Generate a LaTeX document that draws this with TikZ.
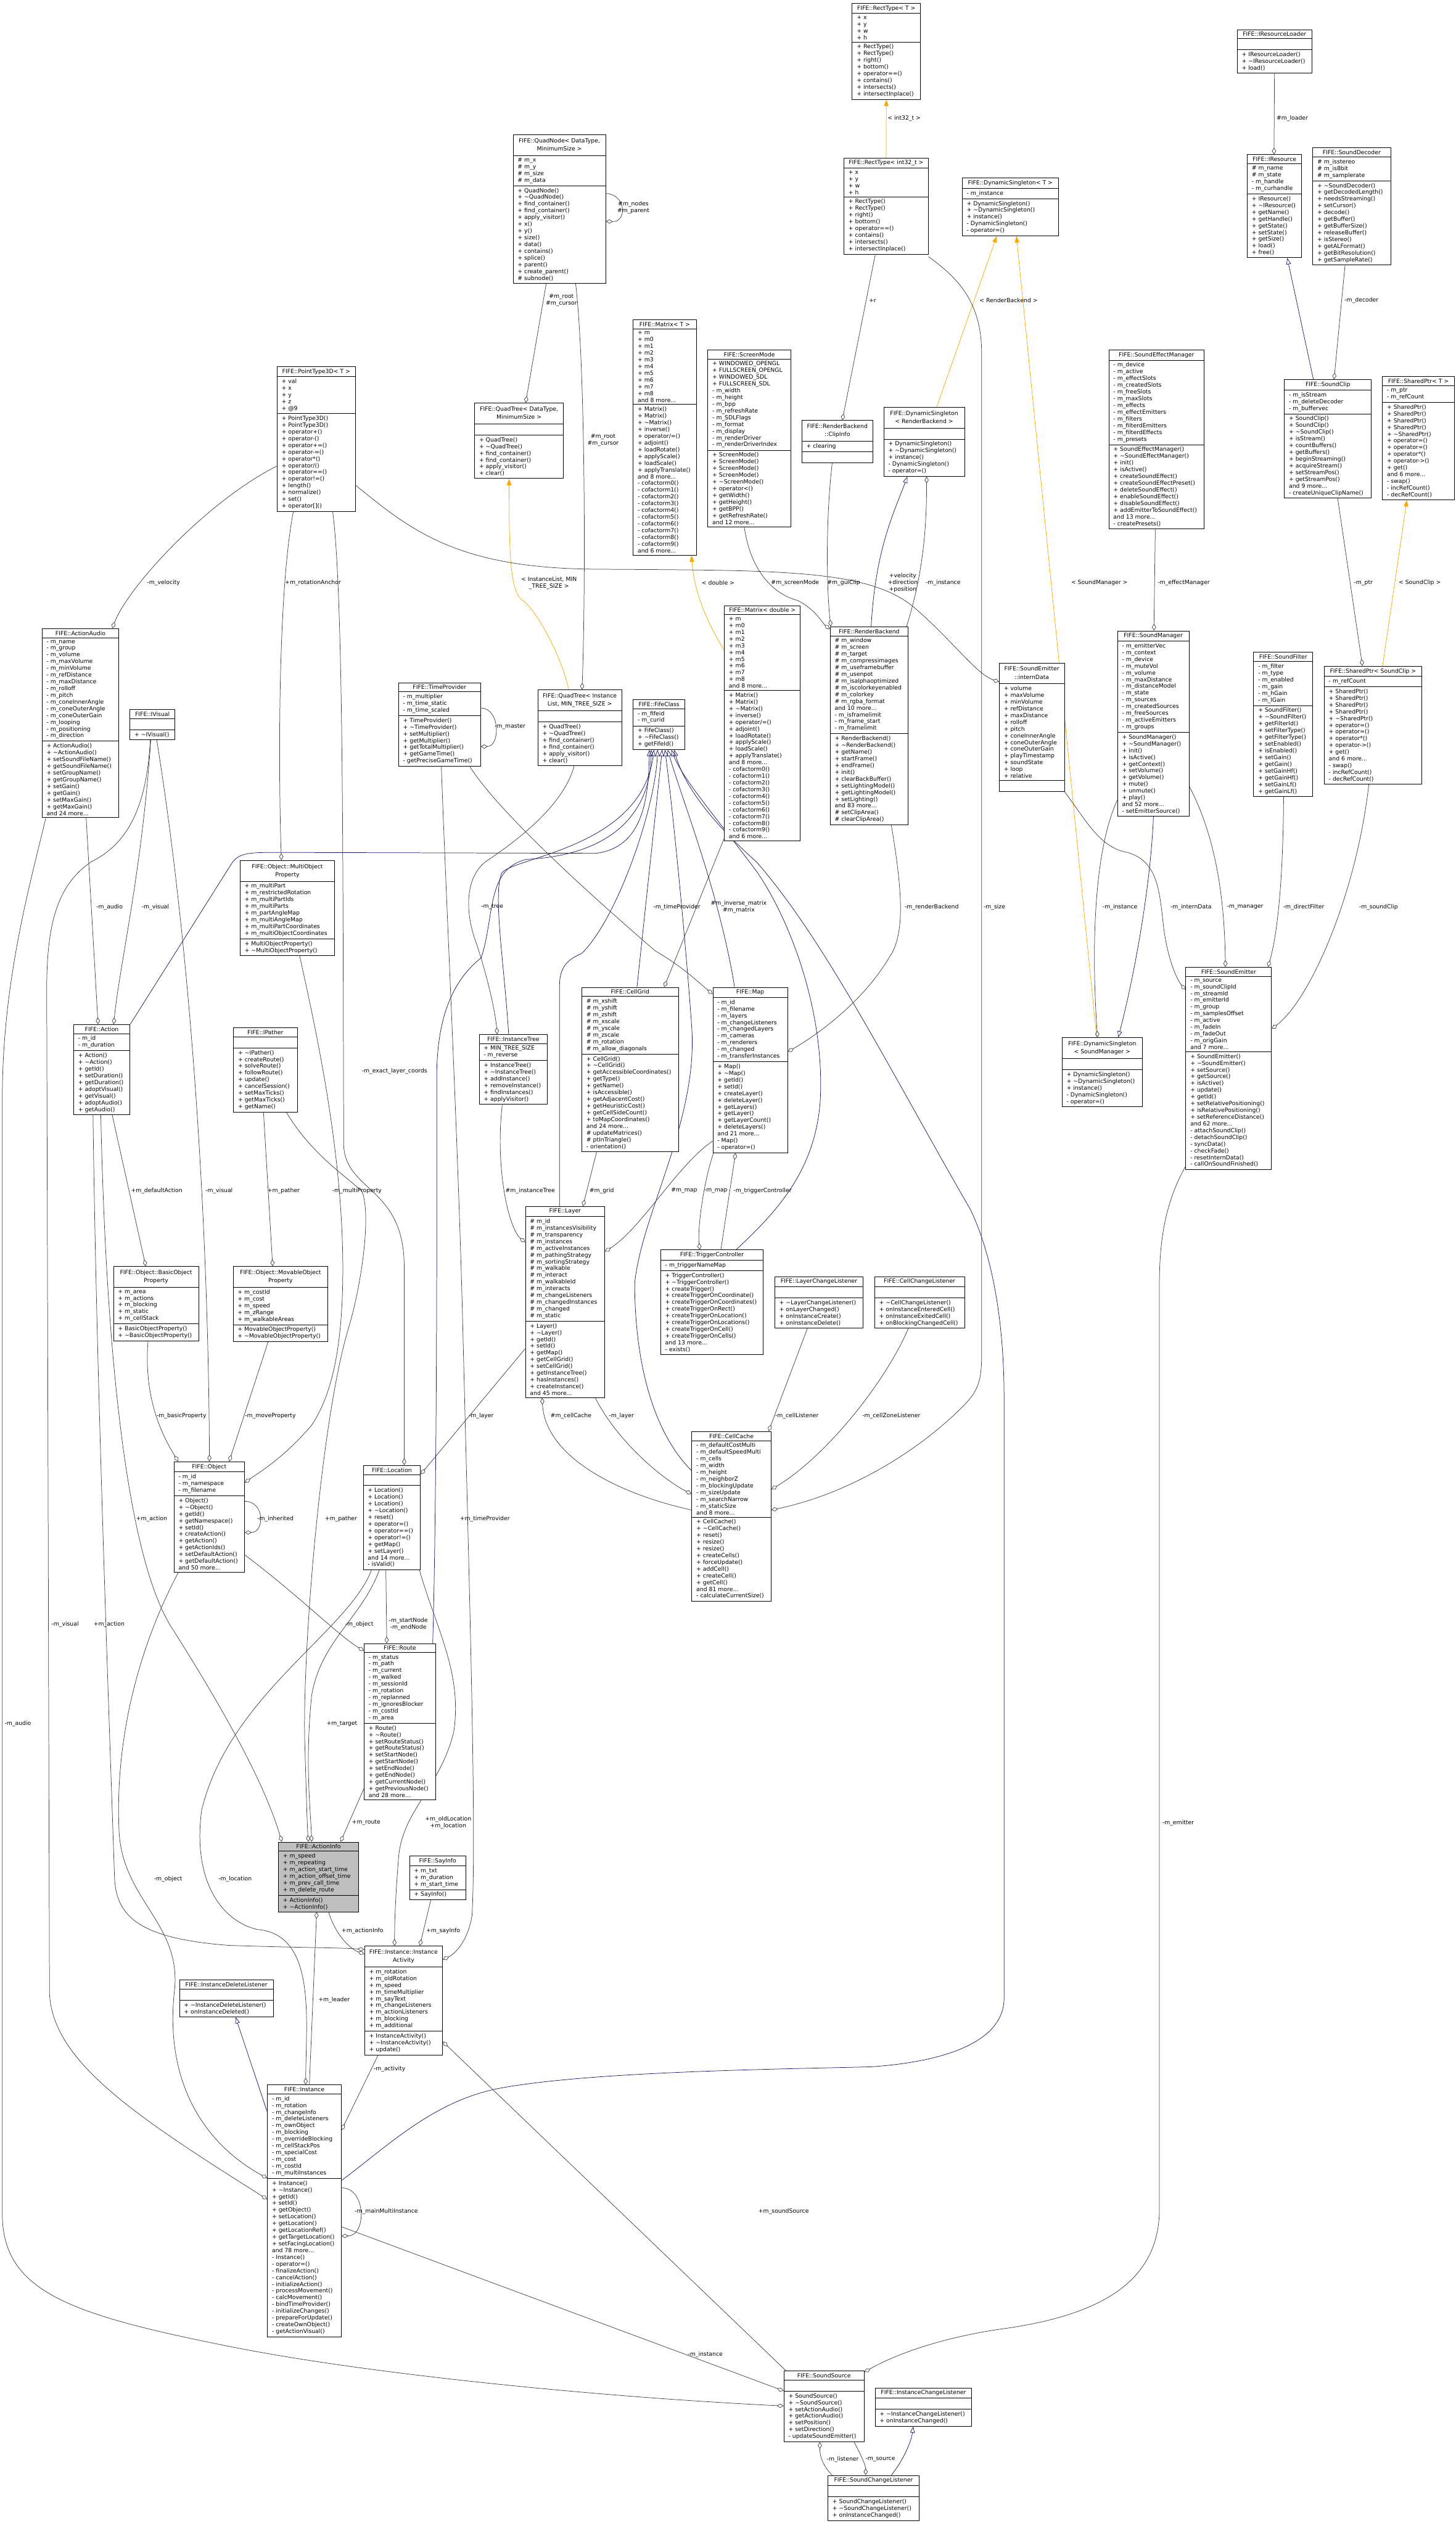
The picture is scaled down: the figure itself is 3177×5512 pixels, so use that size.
\documentclass[tikz,border=0pt]{standalone}
\usepackage{fontspec}
\setmainfont{DejaVu Sans}
\usetikzlibrary{shapes.multipart,arrows.meta,calc}
\definecolor{aggcol}{HTML}{404040}
\definecolor{inhcol}{HTML}{191970}
\definecolor{tplcol}{HTML}{FFA500}
\pgfdeclarelayer{edges}
\pgfsetlayers{edges,main}
\newcommand{\classfont}{\fontsize{12.5}{14.7}\selectfont}
\newcommand{\tld}{\textasciitilde}
\newcommand{\ttl}[2]{\begin{tabular}{@{}c@{}}#1\\#2\end{tabular}}
\renewcommand{\arraystretch}{1.2}
\newcommand{\rectops}{+ RectType()\\+ RectType()\\+ right()\\+ bottom()\\+ operator==()\\+ contains()\\+ intersects()\\+ intersectInplace()}
\newcommand{\matattrs}{+ m\\+ m0\\+ m1\\+ m2\\+ m3\\+ m4\\+ m5\\+ m6\\+ m7\\+ m8\\and 8 more...}
\newcommand{\matops}{+ Matrix()\\+ Matrix()\\+ \tld Matrix()\\+ inverse()\\+ operator/=()\\+ adjoint()\\+ loadRotate()\\+ applyScale()\\+ loadScale()\\+ applyTranslate()\\and 8 more...\\- cofactorm0()\\- cofactorm1()\\- cofactorm2()\\- cofactorm3()\\- cofactorm4()\\- cofactorm5()\\- cofactorm6()\\- cofactorm7()\\- cofactorm8()\\- cofactorm9()\\and 6 more...}
\newcommand{\quadops}{+ QuadTree()\\+ \tld QuadTree()\\+ find\_container()\\+ find\_container()\\+ apply\_visitor()\\+ clear()}
\newcommand{\dsops}{+ DynamicSingleton()\\+ \tld DynamicSingleton()\\+ instance()\\- DynamicSingleton()\\- operator=()}
\newcommand{\shops}{+ SharedPtr()\\+ SharedPtr()\\+ SharedPtr()\\+ SharedPtr()\\+ \tld SharedPtr()\\+ operator=()\\+ operator=()\\+ operator*()\\+ operator->()\\+ get()\\and 6 more...\\- swap()\\- incRefCount()\\- decRefCount()}
\tikzset{
  cls/.style={draw, line width=1.2pt, fill=white, rectangle split, rectangle split parts=3,
    rectangle split ignore empty parts=false, rectangle split part align={center,left,left},
    rectangle split empty part height=11pt, rectangle split empty part depth=3pt,
    align=left, minimum width=#1pt, inner xsep=10pt, inner ysep=4.5pt, anchor=north west,
    font=\classfont},
  lbl/.style={font=\classfont, align=center, inner sep=0pt},
  agg/.style={aggcol, line width=1pt, -{Diamond[open,length=15pt,width=9pt]}},
  inh/.style={inhcol, line width=1pt, -{Triangle[open,length=14pt,width=10pt]}},
  tpl/.style={tplcol, line width=1pt, -{Triangle[length=14pt,width=10pt]}},
}
\begin{document}
\begin{tikzpicture}[x=1pt,y=-1pt]
\path[use as bounding box] (0,0) rectangle (3177,5512);
% classes, top part
\node[cls=149] (rectT) at (1859,7) {FIFE::RectType< T >\nodepart{two}+ x\\+ y\\+ w\\+ h\nodepart{three}\rectops};
\node[cls=184] (rectI) at (1841,344) {FIFE::RectType< int32\_t >\nodepart{two}+ x\\+ y\\+ w\\+ h\nodepart{three}\rectops};
\node[cls=202] (quadN) at (1119,293) {\ttl{FIFE::QuadNode< DataType,}{MinimumSize >}\nodepart{two}\# m\_x\\\# m\_y\\\# m\_size\\\# m\_data\nodepart{three}+ QuadNode()\\+ \tld QuadNode()\\+ find\_container()\\+ find\_container()\\+ apply\_visitor()\\+ x()\\+ y()\\+ size()\\+ data()\\+ contains()\\+ splice()\\+ parent()\\+ create\_parent()\\\# subnode()};
\node[cls=194] (quadT) at (1035,879) {\ttl{FIFE::QuadTree< DataType,}{MinimumSize >}\nodepart{two}\nodepart{three}\quadops};
\node[cls=138] (matT) at (1381,697) {FIFE::Matrix< T >\nodepart{two}\matattrs\nodepart{three}\matops};
\node[cls=166] (matD) at (1580,1321) {FIFE::Matrix< double >\nodepart{two}\matattrs\nodepart{three}\matops};
\node[cls=181] (screen) at (1544,763) {FIFE::ScreenMode\nodepart{two}+ WINDOWED\_OPENGL\\+ FULLSCREEN\_OPENGL\\+ WINDOWED\_SDL\\+ FULLSCREEN\_SDL\\- m\_width\\- m\_height\\- m\_bpp\\- m\_refreshRate\\- m\_SDLFlags\\- m\_format\\- m\_display\\- m\_renderDriver\\- m\_renderDriverIndex\nodepart{three}+ ScreenMode()\\+ ScreenMode()\\+ ScreenMode()\\+ ScreenMode()\\+ \tld ScreenMode()\\+ operator<()\\+ getWidth()\\+ getHeight()\\+ getBPP()\\+ getRefreshRate()\\and 12 more...};
\node[cls=155] (clip) at (1749,917) {\ttl{FIFE::RenderBackend}{::ClipInfo}\nodepart{two}+ clearing\nodepart{three}};
\node[cls=210] (dsT) at (2099,388) {FIFE::DynamicSingleton< T >\nodepart{two}- m\_instance\nodepart{three}\dsops};
\node[cls=176] (dsRB) at (1928,888) {\ttl{FIFE::DynamicSingleton}{< RenderBackend >}\nodepart{two}\nodepart{three}\dsops};
\node[cls=170] (rback) at (1811,1367) {FIFE::RenderBackend\nodepart{two}\# m\_window\\\# m\_screen\\\# m\_target\\\# m\_compressimages\\\# m\_useframebuffer\\\# m\_usenpot\\\# m\_isalphaoptimized\\\# m\_iscolorkeyenabled\\\# m\_colorkey\\\# m\_rgba\_format\\and 10 more...\\- m\_isframelimit\\- m\_frame\_start\\- m\_framelimit\nodepart{three}+ RenderBackend()\\+ \tld RenderBackend()\\+ getName()\\+ startFrame()\\+ endFrame()\\+ init()\\+ clearBackBuffer()\\+ setLightingModel()\\+ getLightingModel()\\+ setLighting()\\and 83 more...\\\# setClipArea()\\\# clearClipArea()};
\node[cls=163] (resLoad) at (2699,64) {FIFE::IResourceLoader\nodepart{two}\nodepart{three}+ IResourceLoader()\\+ \tld IResourceLoader()\\+ load()};
\node[cls=119] (res) at (2721,337) {FIFE::IResource\nodepart{two}\# m\_name\\\# m\_state\\- m\_handle\\- m\_curhandle\nodepart{three}+ IResource()\\+ \tld IResource()\\+ getName()\\+ getHandle()\\+ getState()\\+ setState()\\+ getSize()\\+ load()\\+ free()};
\node[cls=170] (sdec) at (2864,322) {FIFE::SoundDecoder\nodepart{two}\# m\_isstereo\\\# m\_is8bit\\\# m\_samplerate\nodepart{three}+ \tld SoundDecoder()\\+ getDecodedLength()\\+ needsStreaming()\\+ setCursor()\\+ decode()\\+ getBuffer()\\+ getBufferSize()\\+ releaseBuffer()\\+ isStereo()\\+ getALFormat()\\+ getBitResolution()\\+ getSampleRate()};
\node[cls=190] (sclip) at (2802,828) {FIFE::SoundClip\nodepart{two}- m\_isStream\\- m\_deleteDecoder\\- m\_buffervec\nodepart{three}+ SoundClip()\\+ SoundClip()\\+ \tld SoundClip()\\+ isStream()\\+ countBuffers()\\+ getBuffers()\\+ beginStreaming()\\+ acquireStream()\\+ setStreamPos()\\+ getStreamPos()\\and 9 more...\\- createUniqueClipName()};
\node[cls=157] (shT) at (3016,821) {FIFE::SharedPtr< T >\nodepart{two}- m\_ptr\\- m\_refCount\nodepart{three}\shops};
\node[cls=208] (sefx) at (2419,763) {FIFE::SoundEffectManager\nodepart{two}- m\_device\\- m\_active\\- m\_effectSlots\\- m\_createdSlots\\- m\_freeSlots\\- m\_maxSlots\\- m\_effects\\- m\_effectEmitters\\- m\_filters\\- m\_filterdEmitters\\- m\_filterdEffects\\- m\_presets\nodepart{three}+ SoundEffectManager()\\+ \tld SoundEffectManager()\\+ init()\\+ isActive()\\+ createSoundEffect()\\+ createSoundEffectPreset()\\+ deleteSoundEffect()\\+ enableSoundEffect()\\+ disableSoundEffect()\\+ addEmitterToSoundEffect()\\and 13 more...\\- createPresets()};
\node[cls=171] (ptd) at (604,799) {FIFE::PointType3D< T >\nodepart{two}+ val\\+ x\\+ y\\+ z\\+ @9\nodepart{three}+ PointType3D()\\+ PointType3D()\\+ operator+()\\+ operator-()\\+ operator+=()\\+ operator-=()\\+ operator*()\\+ operator/()\\+ operator==()\\+ operator!=()\\+ length()\\+ normalize()\\+ set()\\+ operator[]()};
% middle part
\node[cls=168] (aaudio) at (91,1371) {FIFE::ActionAudio\nodepart{two}- m\_name\\- m\_group\\- m\_volume\\- m\_maxVolume\\- m\_minVolume\\- m\_refDistance\\- m\_maxDistance\\- m\_rolloff\\- m\_pitch\\- m\_coneInnerAngle\\- m\_coneOuterAngle\\- m\_coneOuterGain\\- m\_looping\\- m\_positioning\\- m\_direction\nodepart{three}+ ActionAudio()\\+ \tld ActionAudio()\\+ setSoundFileName()\\+ getSoundFileName()\\+ setGroupName()\\+ getGroupName()\\+ setGain()\\+ getGain()\\+ setMaxGain()\\+ getMaxGain()\\and 24 more...};
\node[cls=98] (ivis) at (283,1548) {FIFE::IVisual\nodepart{two}\nodepart{three}+ \tld IVisual()};
\node[cls=179] (tprov) at (869,1489) {FIFE::TimeProvider\nodepart{two}- m\_multiplier\\- m\_time\_static\\- m\_time\_scaled\nodepart{three}+ TimeProvider()\\+ \tld TimeProvider()\\+ setMultiplier()\\+ getMultiplier()\\+ getTotalMultiplier()\\+ getGameTime()\\- getPreciseGameTime()};
\node[cls=183] (quadTI) at (1173,1505) {\ttl{FIFE::QuadTree< Instance}{List, MIN\_TREE\_SIZE >}\nodepart{two}\nodepart{three}\quadops};
\node[cls=113] (fife) at (1381,1526) {FIFE::FifeClass\nodepart{two}- m\_fifeid\\- m\_curid\nodepart{three}+ FifeClass()\\+ \tld FifeClass()\\+ getFifeId()};
\node[cls=207] (multi) at (523,1877) {\ttl{FIFE::Object::MultiObject}{Property}\nodepart{two}+ m\_multiPart\\+ m\_restrictedRotation\\+ m\_multiPartIds\\+ m\_multiParts\\+ m\_partAngleMap\\+ m\_multiAngleMap\\+ m\_multiPartCoordinates\\+ m\_multiObjectCoordinates\nodepart{three}+ MultiObjectProperty()\\+ \tld MultiObjectProperty()};
\node[cls=123] (action) at (160,2235) {FIFE::Action\nodepart{two}- m\_id\\- m\_duration\nodepart{three}+ Action()\\+ \tld Action()\\+ getId()\\+ setDuration()\\+ getDuration()\\+ adoptVisual()\\+ getVisual()\\+ adoptAudio()\\+ getAudio()};
\node[cls=139] (ipath) at (509,2242) {FIFE::IPather\nodepart{two}\nodepart{three}+ \tld IPather()\\+ createRoute()\\+ solveRoute()\\+ followRoute()\\+ update()\\+ cancelSession()\\+ setMaxTicks()\\+ getMaxTicks()\\+ getName()};
\node[cls=149] (itree) at (1045,2257) {FIFE::InstanceTree\nodepart{two}+ MIN\_TREE\_SIZE\\- m\_reverse\nodepart{three}+ InstanceTree()\\+ \tld InstanceTree()\\+ addInstance()\\+ removeInstance()\\+ findInstances()\\+ applyVisitor()};
\node[cls=211] (cgrid) at (1269,2154) {FIFE::CellGrid\nodepart{two}\# m\_xshift\\\# m\_yshift\\\# m\_zshift\\\# m\_xscale\\\# m\_yscale\\\# m\_zscale\\\# m\_rotation\\\# m\_allow\_diagonals\nodepart{three}+ CellGrid()\\+ \tld CellGrid()\\+ getAccessibleCoordinates()\\+ getType()\\+ getName()\\+ isAccessible()\\+ getAdjacentCost()\\+ getHeuristicCost()\\+ getCellSideCount()\\+ toMapCoordinates()\\and 24 more...\\\# updateMatrices()\\\# ptInTriangle()\\- orientation()};
\node[cls=163] (map) at (1555,2154) {FIFE::Map\nodepart{two}- m\_id\\- m\_filename\\- m\_layers\\- m\_changeListeners\\- m\_changedLayers\\- m\_cameras\\- m\_renderers\\- m\_changed\\- m\_transferInstances\nodepart{three}+ Map()\\+ \tld Map()\\+ getId()\\+ setId()\\+ createLayer()\\+ deleteLayer()\\+ getLayers()\\+ getLayer()\\+ getLayerCount()\\+ deleteLayers()\\and 21 more...\\- Map()\\- operator=()};
\node[cls=173] (layer) at (1146,2632) {FIFE::Layer\nodepart{two}\# m\_id\\\# m\_instancesVisibility\\\# m\_transparency\\\# m\_instances\\\# m\_activeInstances\\\# m\_pathingStrategy\\\# m\_sortingStrategy\\\# m\_walkable\\\# m\_interact\\\# m\_walkableId\\\# m\_interacts\\\# m\_changeListeners\\\# m\_changedInstances\\\# m\_changed\\\# m\_static\nodepart{three}+ Layer()\\+ \tld Layer()\\+ getId()\\+ setId()\\+ getMap()\\+ getCellGrid()\\+ setCellGrid()\\+ getInstanceTree()\\+ hasInstances()\\+ createInstance()\\and 45 more...};
\node[cls=224] (trig) at (1441,2727) {FIFE::TriggerController\nodepart{two}- m\_triggerNameMap\nodepart{three}+ TriggerController()\\+ \tld TriggerController()\\+ createTrigger()\\+ createTriggerOnCoordinate()\\+ createTriggerOnCoordinates()\\+ createTriggerOnRect()\\+ createTriggerOnLocation()\\+ createTriggerOnLocations()\\+ createTriggerOnCell()\\+ createTriggerOnCells()\\and 13 more...\\- exists()};
\node[cls=142] (idata) at (2180,1446) {\ttl{FIFE::SoundEmitter}{::internData}\nodepart{two}+ volume\\+ maxVolume\\+ minVolume\\+ refDistance\\+ maxDistance\\+ rolloff\\+ pitch\\+ coneInnerAngle\\+ coneOuterAngle\\+ coneOuterGain\\+ playTimestamp\\+ soundState\\+ loop\\+ relative\nodepart{three}};
\node[cls=156] (smgr) at (2438,1376) {FIFE::SoundManager\nodepart{two}- m\_emitterVec\\- m\_context\\- m\_device\\- m\_muteVol\\- m\_volume\\- m\_maxDistance\\- m\_distanceModel\\- m\_state\\- m\_sources\\- m\_createdSources\\- m\_freeSources\\- m\_activeEmitters\\- m\_groups\nodepart{three}+ SoundManager()\\+ \tld SoundManager()\\+ init()\\+ isActive()\\+ getContext()\\+ setVolume()\\+ getVolume()\\+ mute()\\+ unmute()\\+ play()\\and 52 more...\\- setEmitterSource()};
\node[cls=129] (sfilt) at (2735,1423) {FIFE::SoundFilter\nodepart{two}- m\_filter\\- m\_type\\- m\_enabled\\- m\_gain\\- m\_hGain\\- m\_lGain\nodepart{three}+ SoundFilter()\\+ \tld SoundFilter()\\+ getFilterId()\\+ setFilterType()\\+ getFilterType()\\+ setEnabled()\\+ isEnabled()\\+ setGain()\\+ getGain()\\+ setGainHf()\\+ getGainHf()\\+ setGainLf()\\+ getGainLf()};
\node[cls=213] (shSC) at (2889,1453) {FIFE::SharedPtr< SoundClip >\nodepart{two}- m\_refCount\nodepart{three}\shops};
\node[cls=175] (dsSM) at (2317,2264) {\ttl{FIFE::DynamicSingleton}{< SoundManager >}\nodepart{two}\nodepart{three}\dsops};
\node[cls=187] (semit) at (2587,2110) {FIFE::SoundEmitter\nodepart{two}- m\_source\\- m\_soundClipId\\- m\_streamId\\- m\_emitterId\\- m\_group\\- m\_samplesOffset\\- m\_active\\- m\_fadeIn\\- m\_fadeOut\\- m\_origGain\\and 7 more...\nodepart{three}+ SoundEmitter()\\+ \tld SoundEmitter()\\+ setSource()\\+ getSource()\\+ isActive()\\+ update()\\+ getId()\\+ setRelativePositioning()\\+ isRelativePositioning()\\+ setReferenceDistance()\\and 62 more...\\- attachSoundClip()\\- detachSoundClip()\\- syncData()\\- checkFade()\\- resetInternData()\\- callOnSoundFinished()};
% lower part
\node[cls=186] (basic) at (247,2763) {\ttl{FIFE::Object::BasicObject}{Property}\nodepart{two}+ m\_area\\+ m\_actions\\+ m\_blocking\\+ m\_static\\+ m\_cellStack\nodepart{three}+ BasicObjectProperty()\\+ \tld BasicObjectProperty()};
\node[cls=207] (movable) at (508,2763) {\ttl{FIFE::Object::MovableObject}{Property}\nodepart{two}+ m\_costId\\+ m\_cost\\+ m\_speed\\+ m\_zRange\\+ m\_walkableAreas\nodepart{three}+ MovableObjectProperty()\\+ \tld MovableObjectProperty()};
\node[cls=154] (object) at (379,3189) {FIFE::Object\nodepart{two}- m\_id\\- m\_namespace\\- m\_filename\nodepart{three}+ Object()\\+ \tld Object()\\+ getId()\\+ getNamespace()\\+ setId()\\+ createAction()\\+ getAction()\\+ getActionIds()\\+ setDefaultAction()\\+ getDefaultAction()\\and 50 more...};
\node[cls=125] (loc) at (792,3197) {FIFE::Location\nodepart{two}\nodepart{three}+ Location()\\+ Location()\\+ Location()\\+ \tld Location()\\+ reset()\\+ operator=()\\+ operator==()\\+ operator!=()\\+ getMap()\\+ setLayer()\\and 14 more...\\- isValid()};
\node[cls=156] (route) at (794,3586) {FIFE::Route\nodepart{two}- m\_status\\- m\_path\\- m\_current\\- m\_walked\\- m\_sessionId\\- m\_rotation\\- m\_replanned\\- m\_ignoresBlocker\\- m\_costId\\- m\_area\nodepart{three}+ Route()\\+ \tld Route()\\+ setRouteStatus()\\+ getRouteStatus()\\+ setStartNode()\\+ getStartNode()\\+ setEndNode()\\+ getEndNode()\\+ getCurrentNode()\\+ getPreviousNode()\\and 28 more...};
\node[cls=175, fill=black!25] (ainfo) at (607,4019) {FIFE::ActionInfo\nodepart{two}+ m\_speed\\+ m\_repeating\\+ m\_action\_start\_time\\+ m\_action\_offset\_time\\+ m\_prev\_call\_time\\+ m\_delete\_route\nodepart{three}+ ActionInfo()\\+ \tld ActionInfo()};
\node[cls=123] (say) at (893,4049) {FIFE::SayInfo\nodepart{two}+ m\_txt\\+ m\_duration\\+ m\_start\_time\nodepart{three}+ SayInfo()};
\node[cls=193] (lcl) at (1690,2785) {FIFE::LayerChangeListener\nodepart{two}\nodepart{three}+ \tld LayerChangeListener()\\+ onLayerChanged()\\+ onInstanceCreate()\\+ onInstanceDelete()};
\node[cls=196] (ccl) at (1908,2785) {FIFE::CellChangeListener\nodepart{two}\nodepart{three}+ \tld CellChangeListener()\\+ onInstanceEnteredCell()\\+ onInstanceExitedCell()\\+ onBlockingChangedCell()};
\node[cls=173] (ccache) at (1509,3123) {FIFE::CellCache\nodepart{two}- m\_defaultCostMulti\\- m\_defaultSpeedMulti\\- m\_cells\\- m\_width\\- m\_height\\- m\_neighborZ\\- m\_blockingUpdate\\- m\_sizeUpdate\\- m\_searchNarrow\\- m\_staticSize\\and 8 more...\nodepart{three}+ CellCache()\\+ \tld CellCache()\\+ reset()\\+ resize()\\+ resize()\\+ createCells()\\+ forceUpdate()\\+ addCell()\\+ createCell()\\+ getCell()\\and 81 more...\\- calculateCurrentSize()};
\node[cls=205] (idl) at (391,4320) {FIFE::InstanceDeleteListener\nodepart{two}\nodepart{three}+ \tld InstanceDeleteListener()\\+ onInstanceDeleted()};
\node[cls=170] (iact) at (795,4246) {\ttl{FIFE::Instance::Instance}{Activity}\nodepart{two}+ m\_rotation\\+ m\_oldRotation\\+ m\_speed\\+ m\_timeMultiplier\\+ m\_sayText\\+ m\_changeListeners\\+ m\_actionListeners\\+ m\_blocking\\+ m\_additional\nodepart{three}+ InstanceActivity()\\+ \tld InstanceActivity()\\+ update()};
\node[cls=161] (inst) at (583,4549) {FIFE::Instance\nodepart{two}- m\_id\\- m\_rotation\\- m\_changeInfo\\- m\_deleteListeners\\- m\_ownObject\\- m\_blocking\\- m\_overrideBlocking\\- m\_cellStackPos\\- m\_specialCost\\- m\_cost\\- m\_costId\\- m\_multiInstances\nodepart{three}+ Instance()\\+ \tld Instance()\\+ getId()\\+ setId()\\+ getObject()\\+ setLocation()\\+ getLocation()\\+ getLocationRef()\\+ getTargetLocation()\\+ setFacingLocation()\\and 78 more...\\- Instance()\\- operator=()\\- finalizeAction()\\- cancelAction()\\- initializeAction()\\- processMovement()\\- calcMovement()\\- bindTimeProvider()\\- initializeChanges()\\- prepareForUpdate()\\- createOwnObject()\\- getActionVisual()};
\node[cls=175] (ssrc) at (1710,5173) {FIFE::SoundSource\nodepart{two}\nodepart{three}+ SoundSource()\\+ \tld SoundSource()\\+ setActionAudio()\\+ getActionAudio()\\+ setPosition()\\+ setDirection()\\- updateSoundEmitter()};
\node[cls=211] (icl) at (1909,5210) {FIFE::InstanceChangeListener\nodepart{two}\nodepart{three}+ \tld InstanceChangeListener()\\+ onInstanceChanged()};
\node[cls=199] (scl) at (1806,5401) {FIFE::SoundChangeListener\nodepart{two}\nodepart{three}+ SoundChangeListener()\\+ \tld SoundChangeListener()\\+ onInstanceChanged()};

\begin{pgfonlayer}{edges}
% template instances
\draw[tpl] (rectI.north) -- (rectT.south);
\draw[tpl] ($(quadTI.north west)+(68,0)$) .. controls (1225,1430) and (1170,1330) .. (1140,1310) .. controls (1112,1290) and (1111,1200) .. ($(quadT.south west)+(76,0)$);
\draw[tpl] ($(matD.north west)+(0,97)$) .. controls (1550,1370) and (1515,1300) .. ($(matT.south west)+(128,0)$);
\draw[tpl] ($(dsRB.north west)+(116,0)$) -- ($(dsT.south west)+(76,0)$);
\draw[tpl] ($(dsSM.north west)+(76,0)$) -- ($(dsT.south west)+(119,0)$);
\draw[tpl] ($(shSC.north west)+(128,0)$) -- ($(shT.south west)+(54,0)$);
% inheritance
\draw[inh] ($(rback.north west)+(90,0)$) .. controls (1910,1200) and (1950,1120) .. ($(dsRB.south west)+(52,0)$);
\draw[inh] ($(smgr.south west)+(79,0)$) .. controls (2510,1950) and (2470,2150) .. ($(dsSM.north west)+(123,0)$);
\draw[inh] ($(sclip.north west)+(64,0)$) -- ($(res.south west)+(88,0)$);
\draw[inh] ($(inst.north west)+(0,59)$) -- ($(idl.south west)+(123,0)$);
\draw[inh] ($(scl.north west)+(139,0)$) .. controls (1970,5370) and (1988,5330) .. ($(icl.south west)+(84,0)$);
\draw[inh] (action.north east) -- (505,1885) .. controls (520,1862) and (540,1860) .. (600,1860) -- (1300,1862) .. controls (1400,1850) and (1415,1750) .. ($(fife.south west)+(36,0)$);
\draw[inh] ($(route.north east)+(-7,0)$) .. controls (950,3400) and (953,3000) .. (953,2700) -- (953,2350) .. controls (953,2200) and (1000,2130) .. (1050,2090) .. controls (1080,2000) and (1060,1895) .. (1150,1875) .. controls (1350,1865) and (1420,1760) .. ($(fife.south west)+(40,0)$);
\draw[inh] ($(itree.north west)+(65,0)$) .. controls (1100,2100) and (1075,1950) .. (1095,1905) .. controls (1120,1870) and (1400,1850) .. ($(fife.south west)+(46,0)$);
\draw[inh] ($(layer.north west)+(75,0)$) -- (1221,2150) .. controls (1221,2100) and (1250,2090) .. (1270,2080) .. controls (1350,2000) and (1430,1760) .. ($(fife.south west)+(54,0)$);
\draw[inh] ($(cgrid.north west)+(121,0)$) -- ($(fife.south west)+(64,0)$);
\draw[inh] ($(map.north west)+(48,0)$) .. controls (1570,1950) and (1490,1750) .. ($(fife.south west)+(76,0)$);
\draw[inh] ($(ccache.north west)+(0,86)$) .. controls (1420,3120) and (1385,2960) .. (1385,2800) .. controls (1400,2650) and (1520,2450) .. (1510,2250) .. controls (1500,2100) and (1472,1800) .. ($(fife.south west)+(70,0)$);
\draw[inh] ($(trig.north east)+(-60,0)$) .. controls (1700,2640) and (1780,2550) .. (1790,2400) .. controls (1800,2200) and (1720,2000) .. (1650,1900) .. controls (1560,1780) and (1490,1700) .. ($(fife.south west)+(84,0)$);
\draw[inh] ($(inst.north east)+(0,209)$) .. controls (850,4680) and (950,4580) .. (1100,4555) .. controls (1300,4520) and (1700,4515) .. (1900,4510) .. controls (2050,4500) and (2191,4460) .. (2191,4360) -- (2191,3050) .. controls (2191,2900) and (2170,2750) .. (2118,2640) .. controls (1950,2350) and (1800,2050) .. (1650,1880) .. controls (1560,1800) and (1495,1720) .. ($(fife.south west)+(90,0)$);
% aggregation
\draw[agg] ($(ptd.north west)+(0,218)$) .. controls (450,1095) and (280,1280) .. ($(aaudio.north west)+(154,0)$);
\draw[agg] ($(ptd.south west)+(36,0)$) .. controls (605,1300) and (608,1700) .. ($(multi.north west)+(91,0)$);
\draw[agg] ($(ptd.south west)+(122,0)$) .. controls (750,1300) and (748,1900) .. (750,2500) .. controls (755,2600) and (880,2590) .. (882,2760) -- ($(loc.north west)+(90,0)$);
\draw[agg] ($(ptd.north east)+(0,260)$) .. controls (900,1160) and (1000,1240) .. (1300,1242) .. controls (1700,1245) and (1900,1240) .. (2000,1330) .. controls (2080,1400) and (2130,1470) .. ($(idata.north west)+(0,42)$);
\draw[agg] ($(quadN.north east)+(0,129)$) .. controls (1368,425) and (1368,485) .. ($(quadN.north east)+(0,190)$);
\draw[agg] ($(quadN.south west)+(73,0)$) -- ($(quadT.north west)+(112,0)$);
\draw[agg] ($(quadN.south west)+(137,0)$) .. controls (1278,800) and (1278,1300) .. ($(quadTI.north west)+(97,0)$);
\draw[agg] ($(rectI.south west)+(69,0)$) -- ($(clip.north west)+(89,0)$);
\draw[agg] ($(rectI.north east)+(0,216)$) .. controls (2080,600) and (2142,650) .. (2142,770) -- (2142,2960) .. controls (2142,3020) and (2130,3040) .. (2100,3070) .. controls (2000,3170) and (1850,3260) .. ($(ccache.north east)+(0,172)$);
\draw[agg] ($(clip.south west)+(67,0)$) .. controls (1800,1150) and (1805,1300) .. ($(rback.north west)+(2,0)$);
\draw[agg] ($(screen.south west)+(80,0)$) .. controls (1640,1260) and (1700,1300) .. (1740,1310) .. controls (1780,1330) and (1795,1360) .. ($(rback.north west)+(0,6)$);
\draw[agg] ($(rback.north east)+(-4,0)$) .. controls (2015,1250) and (2022,1150) .. ($(dsRB.south west)+(94,0)$);
\draw[agg] ($(rback.south west)+(134,0)$) .. controls (1970,1950) and (1975,2040) .. (1940,2090) .. controls (1880,2190) and (1780,2260) .. ($(map.north east)+(0,141)$);
\draw[agg] ($(smgr.north west)+(0,370)$) .. controls (2390,1850) and (2380,2050) .. ($(dsSM.north west)+(78,0)$);
\draw[agg] ($(sefx.south west)+(102,0)$) -- ($(smgr.north west)+(80,0)$);
\draw[agg] ($(smgr.north east)+(0,340)$) .. controls (2650,1820) and (2672,1950) .. ($(semit.north west)+(87,0)$);
\draw[agg] (idata.south east) .. controls (2370,1790) and (2400,1850) .. (2460,1860) .. controls (2530,1880) and (2530,1950) .. (2540,2030) .. controls (2550,2100) and (2570,2140) .. ($(semit.north west)+(0,50)$);
\draw[agg] ($(sfilt.south west)+(66,0)$) .. controls (2800,1900) and (2790,2030) .. ($(semit.north west)+(180,0)$);
\draw[agg] ($(shSC.south west)+(98,0)$) .. controls (2960,1950) and (2860,2180) .. ($(semit.north east)+(0,135)$);
\draw[agg] ($(sclip.south west)+(117,0)$) -- ($(shSC.north west)+(84,0)$);
\draw[agg] (resLoad.south) -- ($(res.north west)+(59,0)$);
\draw[agg] ($(sdec.south west)+(71,0)$) -- ($(sclip.north west)+(109,0)$);
\draw[agg] ($(semit.south west)+(0,-7)$) .. controls (2545,2620) and (2530,2700) .. (2530,2800) -- (2530,4820) .. controls (2530,4980) and (2400,5050) .. (2200,5080) .. controls (2050,5100) and (1950,5140) .. ($(ssrc.north east)+(0,3)$);
\draw[agg] ($(tprov.north east)+(0,56)$) .. controls (1092,1545) and (1092,1629) .. ($(tprov.north east)+(0,140)$);
\draw[agg] ($(tprov.south west)+(94,0)$) .. controls (975,2000) and (1000,2500) .. (1010,2900) .. controls (1025,3500) and (1040,4000) .. (1030,4180) .. controls (1020,4240) and (990,4265) .. ($(iact.north east)+(0,30)$);
\draw[agg] ($(tprov.south east)+(-24,0)$) .. controls (1080,1760) and (1250,1920) .. (1430,2075) .. controls (1490,2110) and (1520,2140) .. ($(map.north west)+(0,15)$);
\draw[agg] ($(quadTI.south west)+(80,0)$) .. controls (1230,1760) and (1120,1840) .. (1060,1880) .. controls (1020,1910) and (1010,1980) .. (1040,2060) .. controls (1060,2120) and (1080,2200) .. ($(itree.north west)+(40,0)$);
\draw[agg] ($(itree.south west)+(51,0)$) .. controls (1080,2550) and (1110,2680) .. ($(layer.north west)+(0,79)$);
\draw[agg] ($(cgrid.south west)+(33,0)$) -- ($(layer.north west)+(126,0)$);
\draw[agg] ($(map.north west)+(0,336)$) .. controls (1480,2540) and (1400,2680) .. ($(layer.north east)+(0,99)$);
\draw[agg] ($(map.south west)+(2,0)$) .. controls (1535,2580) and (1522,2680) .. ($(trig.north west)+(86,0)$);
\draw[agg] ($(trig.north west)+(132,0)$) -- ($(map.south west)+(50,0)$);
\draw[agg] ($(matD.south west)+(0,-6)$) -- ($(cgrid.north east)+(-32,0)$);
\draw[agg] ($(layer.south west)+(153,0)$) .. controls (1350,3150) and (1450,3230) .. ($(ccache.north west)+(0,137)$);
\draw[agg] ($(ccache.north west)+(0,172)$) .. controls (1350,3260) and (1190,3180) .. ($(layer.south west)+(37,0)$);
\draw[agg] ($(lcl.south west)+(72,0)$) -- ($(ccache.north east)+(-6,0)$);
\draw[agg] ($(ccl.south west)+(74,0)$) .. controls (1930,3020) and (1800,3180) .. ($(ccache.north east)+(0,127)$);
\draw[agg] ($(layer.north west)+(0,311)$) -- ($(loc.north east)+(0,20)$);
\draw[agg] ($(aaudio.south west)+(97,0)$) -- ($(action.north west)+(54,0)$);
\draw[agg] ($(ivis.south west)+(46,0)$) .. controls (310,1900) and (262,2100) .. ($(action.north west)+(88,0)$);
\draw[agg] ($(ivis.south west)+(45,0)$) .. controls (320,1760) and (280,1840) .. (200,1880) .. controls (110,1940) and (100,2050) .. (102,2200) -- (108,4350) .. controls (115,4500) and (300,4620) .. ($(inst.north west)+(0,250)$);
\draw[agg] ($(ivis.south west)+(59,0)$) .. controls (420,2100) and (455,2700) .. ($(object.north west)+(78,0)$);
\draw[agg] ($(aaudio.south west)+(9,0)$) .. controls (60,1950) and (5,2150) .. (5,2400) -- (5,4830) .. controls (5,5000) and (150,5050) .. (500,5120) .. controls (800,5180) and (1300,5230) .. ($(ssrc.north west)+(0,77)$);
\draw[agg] ($(action.south west)+(85,0)$) -- ($(basic.north west)+(71,0)$);
\draw[agg] ($(ipath.south west)+(66,0)$) -- ($(movable.north west)+(87,0)$);
\draw[agg] ($(ipath.south west)+(116,0)$) .. controls (680,2520) and (760,2570) .. (790,2600) .. controls (810,2650) and (790,2800) .. (760,2900) .. controls (700,3100) and (660,3600) .. (665,3800) .. controls (668,3900) and (670,3980) .. ($(ainfo.north west)+(66,0)$);
\draw[agg] ($(multi.south west)+(131,0)$) .. controls (690,2250) and (745,2500) .. (748,2750) .. controls (750,2950) and (720,3050) .. (680,3110) .. controls (620,3180) and (570,3210) .. ($(object.north east)+(0,46)$);
\draw[agg] ($(basic.south west)+(76,0)$) .. controls (315,3030) and (340,3110) .. ($(object.north west)+(10,0)$);
\draw[agg] ($(movable.south west)+(77,0)$) -- ($(object.north west)+(121,0)$);
\draw[agg] ($(object.north east)+(0,87)$) .. controls (578,3276) and (578,3344) .. ($(object.north east)+(0,155)$);
\draw[agg] ($(object.north east)+(0,204)$) .. controls (650,3480) and (740,3570) .. ($(route.north west)+(0,16)$);
\draw[agg] ($(loc.south west)+(50,0)$) -- ($(route.north west)+(50,0)$);
\draw[agg] ($(route.south west)+(0,-25)$) -- ($(ainfo.north east)+(-40,0)$);
\draw[agg] ($(loc.south west)+(36,0)$) .. controls (790,3530) and (700,3580) .. (680,3700) .. controls (665,3850) and (678,3950) .. ($(ainfo.north west)+(73,0)$);
\draw[agg] ($(action.south west)+(60,0)$) .. controls (230,2900) and (270,3400) .. (380,3560) .. controls (500,3750) and (580,3900) .. ($(ainfo.north west)+(8,0)$);
\draw[agg] ($(action.south west)+(43,0)$) .. controls (210,3000) and (240,3800) .. (250,4100) .. controls (255,4180) and (300,4230) .. (500,4245) .. controls (650,4250) and (750,4250) .. ($(iact.north west)+(0,8)$);
\draw[agg] ($(object.south west)+(10,0)$) .. controls (300,3600) and (250,3800) .. (260,4000) .. controls (270,4150) and (400,4200) .. (380,4350) .. controls (360,4550) and (450,4680) .. ($(inst.north west)+(0,204)$);
\draw[agg] ($(loc.south west)+(19,0)$) .. controls (760,3560) and (500,3700) .. (440,3950) .. controls (420,4100) and (480,4190) .. (560,4210) .. controls (690,4220) and (668,4400) .. ($(inst.north west)+(84,0)$);
\draw[agg] ($(loc.south east)+(-3,0)$) .. controls (950,3550) and (1010,3650) .. (990,3780) .. controls (960,3900) and (880,3950) .. (870,4050) .. controls (862,4150) and (861,4200) .. ($(iact.north west)+(66,0)$);
\draw[agg] ($(say.south west)+(47,0)$) -- ($(iact.north west)+(121,0)$);
\draw[agg] ($(ainfo.south west)+(110,0)$) .. controls (735,4230) and (770,4255) .. ($(iact.north west)+(0,18)$);
\draw[agg] ($(inst.north west)+(92,0)$) -- ($(ainfo.south west)+(84,0)$);
\draw[agg] ($(iact.south west)+(30,0)$) -- ($(inst.north east)+(0,99)$);
\draw[agg] ($(inst.north east)+(0,225)$) .. controls (800,4774) and (800,4879) .. ($(inst.north east)+(0,330)$);
\draw[agg] ($(inst.north east)+(0,310)$) -- ($(ssrc.north west)+(0,44)$);
\draw[agg] ($(ssrc.north west)+(5,0)$) -- ($(iact.north east)+(0,209)$);
\draw[agg] ($(scl.north west)+(10,0)$) .. controls (1795,5380) and (1789,5360) .. ($(ssrc.south west)+(79,0)$);
\draw[agg] ($(ssrc.south west)+(154,0)$) .. controls (1880,5360) and (1889,5380) .. ($(scl.north west)+(83,0)$);
\end{pgfonlayer}

% connector labels
\node[lbl] (lVel) at (357,1272) {-m\_velocity};
\node[lbl] (lRotAnch) at (683,1272) {+m\_rotationAnchor};
\node[lbl] (lNodes) at (1382,453) {\#m\_nodes\\\#m\_parent};
\node[lbl] (lRootA) at (1225,655) {\#m\_root\\\#m\_cursor};
\node[lbl] (lRootB) at (1316,960) {\#m\_root\\\#m\_cursor};
\node[lbl] (lInstList) at (1198,1272) {< InstanceList, MIN\\\_TREE\_SIZE >};
\node[lbl] (lDouble) at (1567,1272) {< double >};
\node[lbl] (lInt) at (1973,259) {< int32\_t >};
\node[lbl] (lR) at (1904,656) {+r};
\node[lbl] (lScreen) at (1735,1272) {\#m\_screenMode};
\node[lbl] (lGuiClip) at (1841,1272) {\#m\_guiClip};
\node[lbl] (lRB) at (2201,656) {< RenderBackend >};
\node[lbl] (lVelDir) at (1970,1272) {+velocity\\+direction\\+position};
\node[lbl] (lInstRB) at (2058,1272) {-m\_instance};
\node[lbl] (lSM) at (2399,1272) {< SoundManager >};
\node[lbl] (lLoader) at (2820,259) {\#m\_loader};
\node[lbl] (lDecoder) at (2971,656) {-m\_decoder};
\node[lbl] (lEffMgr) at (2583,1272) {-m\_effectManager};
\node[lbl] (lPtr) at (2975,1272) {-m\_ptr};
\node[lbl] (lSClip) at (3098,1272) {< SoundClip >};
\node[lbl] (lAudioA) at (239,1979) {-m\_audio};
\node[lbl] (lVisA) at (339,1979) {-m\_visual};
\node[lbl] (lTree) at (1074,1979) {-m\_tree};
\node[lbl] (lTimeMap) at (1477,1979) {-m\_timeProvider};
\node[lbl] (lMatrix) at (1612,1979) {\#m\_inverse\_matrix\\\#m\_matrix};
\node[lbl] (lRBack) at (2033,1979) {-m\_renderBackend};
\node[lbl] (lSize) at (2170,1979) {-m\_size};
\node[lbl] (lInstSM) at (2444,1979) {-m\_instance};
\node[lbl] (lIntern) at (2599,1979) {-m\_internData};
\node[lbl] (lManager) at (2717,1979) {-m\_manager};
\node[lbl] (lFilter) at (2845,1979) {-m\_directFilter};
\node[lbl] (lSoundClip) at (3008,1979) {-m\_soundClip};
\node[lbl] (lMaster) at (1113,1585) {-m\_master};
\node[lbl] (lExact) at (861,2337) {-m\_exact\_layer\_coords};
\node[lbl] (lDefAct) at (342,2598) {+m\_defaultAction};
\node[lbl] (lVisB) at (478,2598) {-m\_visual};
\node[lbl] (lPatherA) at (619,2598) {+m\_pather};
\node[lbl] (lMultiProp) at (779,2598) {-m\_multiProperty};
\node[lbl] (lITree) at (1157,2598) {\#m\_instanceTree};
\node[lbl] (lGrid) at (1313,2598) {\#m\_grid};
\node[lbl] (lMapA) at (1493,2598) {\#m\_map};
\node[lbl] (lMapB) at (1562,2598) {-m\_map};
\node[lbl] (lTrig) at (1664,2598) {-m\_triggerController};
\node[lbl] (lBasic) at (396,3090) {-m\_basicProperty};
\node[lbl] (lMove) at (590,3090) {-m\_moveProperty};
\node[lbl] (lLayerA) at (1050,3090) {-m\_layer};
\node[lbl] (lCellCache) at (1246,3090) {\#m\_cellCache};
\node[lbl] (lLayerB) at (1356,3090) {-m\_layer};
\node[lbl] (lCellL) at (1739,3090) {-m\_cellListener};
\node[lbl] (lCellZ) at (1945,3090) {-m\_cellZoneListener};
\node[lbl] (lInherit) at (601,3314) {-m\_inherited};
\node[lbl] (lActA) at (331,3314) {+m\_action};
\node[lbl] (lPatherB) at (744,3314) {+m\_pather};
\node[lbl] (lTimeAct) at (1058,3314) {+m\_timeProvider};
\node[lbl] (lVisC) at (142,3544) {-m\_visual};
\node[lbl] (lActB) at (238,3544) {+m\_action};
\node[lbl] (lObjA) at (784,3544) {-m\_object};
\node[lbl] (lNodesSE) at (891,3544) {-m\_startNode\\-m\_endNode};
\node[lbl] (lAudioB) at (39,3761) {-m\_audio};
\node[lbl] (lTarget) at (746,3761) {+m\_target};
\node[lbl] (lRoute) at (799,3977) {+m\_route};
\node[lbl] (lLocs) at (978,3977) {+m\_oldLocation\\+m\_location};
\node[lbl] (lEmitter) at (2571,3978) {-m\_emitter};
\node[lbl] (lObjB) at (367,4100) {-m\_object};
\node[lbl] (lLoc) at (513,4100) {-m\_location};
\node[lbl] (lActInfo) at (791,4214) {+m\_actionInfo};
\node[lbl] (lSayInfo) at (967,4214) {+m\_sayInfo};
\node[lbl] (lLeader) at (729,4364) {+m\_leader};
\node[lbl] (lActivity) at (850,4515) {-m\_activity};
\node[lbl] (lMainMulti) at (843,4826) {-m\_mainMultiInstance};
\node[lbl] (lSSource) at (1710,4826) {+m\_soundSource};
\node[lbl] (lInstSS) at (1539,5138) {-m\_instance};
\node[lbl] (lListener) at (1839,5367) {-m\_listener};
\node[lbl] (lSource) at (1921,5367) {-m\_source};
\end{tikzpicture}
\end{document}
